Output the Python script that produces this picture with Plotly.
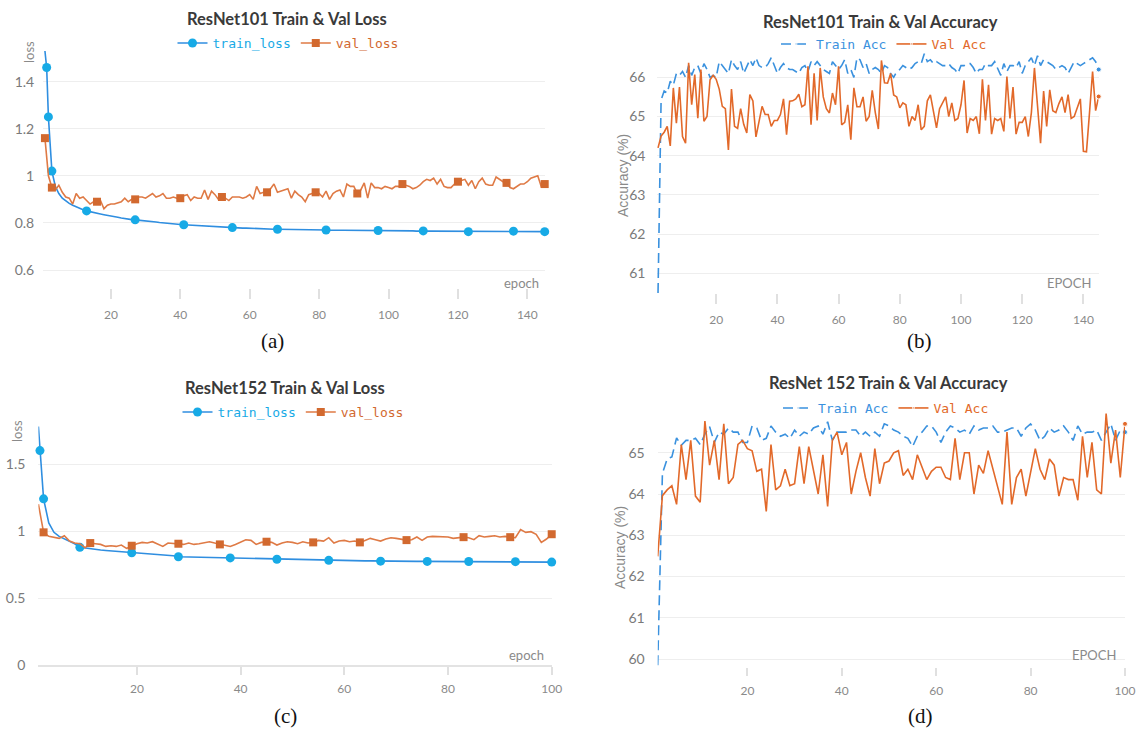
import plotly.graph_objects as go

W, H = 1136, 729

# ---------------- data ----------------
# (a) ResNet101 loss
ep_a_train = [1, 1.5, 2] + list(range(3, 146))
train_loss_a = [1.53, 1.46, 1.25, 1.02,
    0.955, 0.925, 0.905, 0.893, 0.883, 0.875, 0.868, 0.862, 0.856, 0.851,
    0.847, 0.843, 0.840, 0.838, 0.835, 0.833, 0.830, 0.827, 0.824, 0.821,
    0.818, 0.816, 0.814, 0.813, 0.812, 0.810, 0.808, 0.806, 0.805, 0.804,
    0.802, 0.800, 0.799, 0.797, 0.796, 0.795, 0.793, 0.792, 0.791, 0.790,
    0.789, 0.788, 0.787, 0.786, 0.786, 0.785, 0.784, 0.783, 0.782, 0.782,
    0.781, 0.780, 0.779, 0.779, 0.778, 0.778, 0.777, 0.776, 0.776, 0.775,
    0.775, 0.774, 0.774, 0.773, 0.773, 0.773, 0.772, 0.772, 0.772, 0.771,
    0.771, 0.771, 0.771, 0.770, 0.771, 0.770, 0.770, 0.770, 0.770, 0.769,
    0.770, 0.769, 0.769, 0.769, 0.769, 0.768, 0.769, 0.768, 0.768, 0.768,
    0.768, 0.768, 0.767, 0.768, 0.767, 0.767, 0.767, 0.767, 0.766, 0.767,
    0.766, 0.766, 0.766, 0.766, 0.765, 0.766, 0.766, 0.765, 0.765, 0.765,
    0.765, 0.765, 0.764, 0.765, 0.764, 0.764, 0.764, 0.764, 0.764, 0.763,
    0.764, 0.764, 0.764, 0.765, 0.764, 0.764, 0.765, 0.764, 0.764, 0.765,
    0.765, 0.764, 0.765, 0.764, 0.764, 0.764, 0.763, 0.764, 0.764, 0.763,
    0.764, 0.763]
train_loss_a_marks = [1.5, 2, 3, 13, 27, 41, 55, 68, 82, 97, 110, 123, 136, 145]

val_loss_a = [
    1.16, 1.00, 0.95, 0.94, 0.96, 0.93, 0.91, 0.905, 0.88, 0.925,
    0.905, 0.91, 0.895, 0.88, 0.89, 0.89, 0.895, 0.86, 0.875, 0.88,
    0.88, 0.885, 0.89, 0.905, 0.89, 0.90, 0.90, 0.91, 0.91, 0.905,
    0.915, 0.925, 0.91, 0.915, 0.925, 0.905, 0.905, 0.91, 0.905, 0.905,
    0.915, 0.92, 0.895, 0.91, 0.905, 0.905, 0.94, 0.90, 0.935, 0.92,
    0.90, 0.91, 0.905, 0.895, 0.91, 0.91, 0.91, 0.905, 0.91, 0.92,
    0.90, 0.955, 0.925, 0.93, 0.93, 0.945, 0.965, 0.93, 0.935, 0.94,
    0.945, 0.905, 0.935, 0.92, 0.91, 0.89, 0.92, 0.925, 0.93, 0.925,
    0.91, 0.935, 0.90, 0.925, 0.935, 0.94, 0.91, 0.965, 0.955, 0.955,
    0.925, 0.94, 0.97, 0.905, 0.97, 0.95, 0.95, 0.945, 0.955, 0.95,
    0.945, 0.955, 0.955, 0.965, 0.96, 0.955, 0.945, 0.95, 0.96, 0.975,
    0.985, 0.98, 0.99, 0.965, 0.985, 0.955, 0.95, 0.95, 0.965, 0.975,
    0.98, 0.985, 0.96, 0.98, 0.945, 0.975, 0.99, 0.965, 0.96, 0.96,
    0.995, 0.985, 0.975, 0.97, 0.95, 0.945, 0.955, 0.965, 0.965, 0.975,
    0.99, 0.995, 1.0, 0.955, 0.965]
ep_a_val = list(range(1, 146))
val_loss_a_marks = [1, 3, 16, 27, 40, 52, 65, 79, 91, 104, 120, 134, 145]

# (b) ResNet101 accuracy
ep_b = list(range(1, 146))
train_acc_b = [
    60.5, 65.42, 65.65, 65.6, 65.9, 65.8, 66.1, 66.05, 66.15, 66.0,
    66.3, 66.05, 66.25, 66.3, 66.1, 66.35, 66.2, 66.0, 66.05, 66.0,
    66.4, 66.3, 66.2, 66.1, 66.45, 66.3, 66.2, 66.4, 66.1, 66.3,
    66.45, 66.3, 66.5, 66.3, 66.25, 66.25, 66.35, 66.5, 66.3, 66.1,
    66.25, 66.35, 66.25, 66.2, 66.2, 66.15, 66.1, 66.25, 66.3, 66.15,
    66.4, 66.3, 66.4, 66.3, 66.2, 66.15, 66.1, 66.4, 66.3,
    66.2, 66.3, 66.45, 66.1, 66.2, 66.0, 66.5, 66.45, 66.25, 66.35,
    66.1, 66.2, 66.25, 66.2, 66.1, 66.3, 66.25, 66.1, 66.0, 66.15,
    66.2, 66.3, 66.25, 66.2, 66.25, 66.35, 66.4, 66.35, 66.6, 66.4,
    66.45, 66.35, 66.4, 66.35, 66.3, 66.3, 66.35, 66.25, 66.2, 66.1,
    66.3, 66.3, 66.35, 66.35, 66.25, 66.1, 66.2, 66.2, 66.35, 66.3,
    66.3, 66.4, 66.2, 66.05, 66.35, 66.15, 66.3, 66.3, 66.25, 66.4,
    66.1, 66.3, 66.4, 66.5, 66.3, 66.55, 66.3, 66.45, 66.4, 66.35,
    66.3, 66.2, 66.25, 66.3, 66.25, 66.1, 66.25, 66.4, 66.35, 66.3,
    66.35, 66.4, 66.45, 66.5, 66.4, 66.2]
val_acc_b = [
    64.2, 64.5, 64.6, 64.75, 64.25, 65.73, 64.83, 65.75, 64.49, 64.32,
    66.37, 65.3, 66.07, 64.96, 66.2, 64.88, 65.0, 65.94, 66.05, 65.95,
    65.7, 65.26, 65.2, 64.15, 65.7, 64.75, 64.7, 65.2, 64.8, 64.58,
    65.56, 65.4, 64.48, 64.9, 65.26, 65.05, 65.05, 64.75, 64.9, 64.9,
    65.05, 65.45, 64.54, 65.39, 65.4, 65.45, 65.57, 65.25, 65.3, 66.28,
    64.79, 66.1, 64.9, 66.24, 65.5, 65.2, 65.09, 65.6, 65.3, 66.28,
    64.79, 64.85, 65.3, 64.41, 65.73, 65.25, 65.25, 65.5, 64.88, 65.0,
    65.67, 65.1, 64.68, 66.43, 65.86, 65.85, 66.1, 65.55, 65.5, 65.22,
    65.35, 65.3, 64.75, 65.0, 64.9, 65.3, 64.66, 64.75, 65.4, 65.55,
    65.1, 64.71, 65.2, 65.35, 65.5, 65.0, 65.35, 64.9, 64.95, 65.3,
    65.92, 64.58, 64.95, 64.9, 65.0, 64.56, 65.95, 64.9, 65.81, 64.55,
    64.95, 64.9, 64.95, 64.62, 66.02, 64.95, 65.75, 64.55, 64.85, 64.85,
    65.0, 64.49, 65.1, 66.24, 65.3, 64.32, 65.65, 64.75, 65.68, 65.15,
    65.1, 65.33, 65.5, 65.1, 65.56, 64.95, 65.0, 65.25, 65.45, 64.11,
    64.1, 65.1, 66.15, 65.15, 65.51]

# (c) ResNet152 loss
ep_c_train = [1, 1.3, 2] + list(range(3, 101))
train_loss_c = [1.78, 1.60, 1.24,
    1.06, 0.99, 0.96, 0.94, 0.925, 0.905, 0.878, 0.872, 0.866, 0.862,
    0.858, 0.855, 0.852, 0.85, 0.847, 0.845, 0.838, 0.836, 0.834, 0.832,
    0.83, 0.828, 0.825, 0.82, 0.815, 0.808, 0.807, 0.806, 0.806, 0.805,
    0.804, 0.803, 0.802, 0.801, 0.80, 0.799, 0.798, 0.797, 0.796, 0.795,
    0.794, 0.793, 0.792, 0.791, 0.789, 0.788, 0.787, 0.786, 0.785, 0.784,
    0.783, 0.782, 0.782, 0.781, 0.781, 0.78, 0.78, 0.779, 0.779, 0.778,
    0.778, 0.777, 0.777, 0.776, 0.775, 0.775, 0.775, 0.774, 0.774, 0.774,
    0.774, 0.773, 0.773, 0.773, 0.773, 0.773, 0.772, 0.772, 0.772, 0.772,
    0.772, 0.772, 0.772, 0.771, 0.771, 0.771, 0.771, 0.771, 0.771, 0.771,
    0.771, 0.77, 0.77, 0.77, 0.77, 0.769, 0.769, 0.768]
train_loss_c_marks = [1.3, 2, 9, 19, 28, 38, 47, 57, 67, 76, 84, 93, 100]

ep_c_val = list(range(1, 101))
val_loss_c = [
    1.20, 0.99, 0.96, 0.95, 0.945, 0.965, 0.925, 0.91, 0.905, 0.875,
    0.91, 0.905, 0.9, 0.885, 0.89, 0.885, 0.895, 0.87, 0.89, 0.905,
    0.915, 0.91, 0.92, 0.905, 0.885, 0.91, 0.905, 0.905, 0.9, 0.91,
    0.9, 0.905, 0.91, 0.92, 0.91, 0.9, 0.895, 0.885, 0.9, 0.915,
    0.935, 0.93, 0.9, 0.915, 0.92, 0.915, 0.895, 0.91, 0.92, 0.915,
    0.905, 0.92, 0.91, 0.915, 0.93, 0.925, 0.95, 0.91, 0.925, 0.93,
    0.92, 0.925, 0.915, 0.93, 0.945, 0.935, 0.925, 0.94, 0.95, 0.945,
    0.94, 0.932, 0.935, 0.955, 0.93, 0.955, 0.96, 0.96, 0.96, 0.955,
    0.945, 0.95, 0.954, 0.95, 0.935, 0.965, 0.955, 0.96, 0.965, 0.955,
    0.96, 0.954, 0.95, 1.01, 0.99, 0.995, 0.975, 0.915, 0.94, 0.976]
val_loss_c_marks = [2, 11, 19, 28, 36, 45, 54, 63, 72, 83, 92, 100]

# (d) ResNet152 accuracy
ep_d = list(range(1, 101))
train_acc_d = [
    59.85, 64.5, 64.85, 64.9, 65.36, 65.18, 65.3, 65.3, 65.35, 65.2,
    65.45, 65.63, 65.25, 65.5, 65.45, 65.6, 65.5, 65.5, 65.25, 65.25,
    65.65, 65.6, 65.3, 65.35, 65.65, 65.5, 65.4, 65.45, 65.35, 65.55,
    65.4, 65.5, 65.45, 65.6, 65.65, 65.45, 65.75, 65.3, 65.5, 65.5,
    65.5, 65.55, 65.55, 65.4, 65.5, 65.4, 65.5, 65.4, 65.7, 65.65,
    65.55, 65.5, 65.4, 65.35, 65.15, 65.4, 65.5, 65.65, 65.65, 65.5,
    65.25, 65.5, 65.65, 65.6, 65.5, 65.55, 65.45, 65.65, 65.55, 65.6,
    65.6, 65.65, 65.5, 65.5, 65.55, 65.6, 65.6, 65.4, 65.6, 65.7,
    65.55, 65.3, 65.4, 65.6, 65.5, 65.55, 65.65, 65.5, 65.3, 65.65,
    65.45, 65.5, 65.5, 65.55, 65.3, 65.5, 65.7, 65.3, 65.55, 65.5]
val_acc_d = [
    62.49, 63.96, 64.1, 64.2, 63.75, 65.2, 64.35, 65.3, 63.95, 63.8,
    65.77, 64.7, 65.3, 64.35, 65.7, 64.25, 64.4, 65.2, 65.3, 65.1,
    65.05, 64.55, 64.6, 63.58, 65.2, 64.1, 64.2, 64.6, 64.2, 64.25,
    65.15, 64.25, 65.15, 64.55, 64.0, 64.95, 63.7, 65.3, 65.5, 64.95,
    65.25, 64.0, 64.55, 65.0, 64.4, 63.95, 65.1, 64.25, 64.75, 64.8,
    65.0, 65.05, 64.45, 64.6, 64.35, 64.95, 64.65, 64.35, 64.55, 64.65,
    64.65, 64.4, 64.35, 65.35, 64.35, 65.0, 65.0, 64.0, 64.7, 64.5,
    65.05, 64.6, 64.2, 63.75, 65.5, 63.75, 64.4, 64.6, 63.95, 64.5,
    65.1, 64.6, 64.35, 64.85, 64.7, 63.95, 64.4, 64.35, 64.35, 63.85,
    65.4, 64.4, 65.25, 64.1, 64.0, 65.95, 64.75, 65.55, 64.4, 65.7]

titles = ["ResNet101 Train & Val Loss", "ResNet101 Train & Val Accuracy",
          "ResNet152 Train & Val Loss", "ResNet 152 Train & Val Accuracy"]
captions = ["(a)", "(b)", "(c)", "(d)"]

# ---------------- styling ----------------
BLUE_M = "#17aae6"
BLUE_L = "#2f8ee0"
ORANGE_M = "#d2692f"
ORANGE_L = "#df7a45"
ACC_BLUE = "#3a91de"
ACC_ORANGE = "#e2692a"
GRID = "#eeeeee"
TICKC = "#7a7a7a"
SANS = "Lato, sans-serif"
MONO = "DejaVu Sans Mono, monospace"


def xd(l, r):
    return [l / W, r / W]


def yd(t, b):
    return [1 - b / H, 1 - t / H]


def picks(xs, marks):
    return [i for i, x in enumerate(xs) if x in marks]


def last_only(xs, s):
    return [0] * (len(xs) - 1) + [s]


fig = go.Figure()


def loss_trace(xs, ys, marks, name, lcol, mcol, symbol, size, xa, ya, leg):
    return go.Scatter(x=xs, y=ys, mode="lines+markers", xaxis=xa, yaxis=ya,
                      name='<span style="color:%s">%s</span>' % (mcol, name), legend=leg,
                      line=dict(color=lcol, width=1.6),
                      marker=dict(color=mcol, size=size, symbol=symbol, opacity=1),
                      selectedpoints=picks(xs, marks),
                      selected=dict(marker=dict(opacity=1)),
                      unselected=dict(marker=dict(opacity=0)),
                      cliponaxis=False)


def acc_trace(xs, ys, name, col, dash, xa, ya, leg):
    return go.Scatter(x=xs, y=ys, mode="lines+markers", xaxis=xa, yaxis=ya,
                      name='<span style="color:%s">%s</span>' % (col, name), legend=leg,
                      line=dict(color=col, width=1.6, dash=dash),
                      marker=dict(color=col, size=last_only(xs, 5), opacity=1), cliponaxis=False)


fig.add_trace(loss_trace(ep_a_train, train_loss_a, train_loss_a_marks, "train_loss", BLUE_L, BLUE_M,
                         "circle", 9, "x", "y", "legend"))
fig.add_trace(loss_trace(ep_a_val, val_loss_a, val_loss_a_marks, "val_loss", ORANGE_L, ORANGE_M,
                         "square", 8, "x", "y", "legend"))
fig.add_trace(acc_trace(ep_b, train_acc_b, "Train Acc", ACC_BLUE, "10px,5px", "x2", "y2", "legend2"))
fig.add_trace(acc_trace(ep_b, val_acc_b, "Val Acc", ACC_ORANGE, "solid", "x2", "y2", "legend2"))
fig.add_trace(loss_trace(ep_c_train, train_loss_c, train_loss_c_marks, "train_loss", BLUE_L, BLUE_M,
                         "circle", 9, "x3", "y3", "legend3"))
fig.add_trace(loss_trace(ep_c_val, val_loss_c, val_loss_c_marks, "val_loss", ORANGE_L, ORANGE_M,
                         "square", 8, "x3", "y3", "legend3"))
fig.add_trace(acc_trace(ep_d, train_acc_d, "Train Acc", ACC_BLUE, "10px,5px", "x4", "y4", "legend4"))
fig.add_trace(acc_trace(ep_d, val_acc_d, "Val Acc", ACC_ORANGE, "solid", "x4", "y4", "legend4"))


def xaxis(domain, rng, ticklen, showline, standoff):
    return dict(domain=domain, range=rng, showgrid=False, zeroline=False, showline=showline,
                linecolor="#e3e3e3", linewidth=1.5, tickvals=[20, 40, 60, 80, 100, 120, 140],
                ticks="outside", ticklen=ticklen, tickcolor="#e0e0e0", tickwidth=1.5,
                tickfont=dict(family=SANS, size=12, color="#8a8a8a"), ticklabelstandoff=standoff,
                automargin=False, fixedrange=True)


def yaxis(domain, rng, vals, texts, anchor, standoff):
    return dict(domain=domain, range=rng, tickvals=vals, ticktext=texts, showgrid=True,
                gridcolor=GRID, gridwidth=1, zeroline=False, showline=False, ticks="",
                tickfont=dict(family=SANS, size=14, color=TICKC), anchor=anchor,
                ticklabelstandoff=standoff, automargin=False, fixedrange=True)


fig.update_layout(
    width=W, height=H, margin=dict(l=0, r=0, t=0, b=0, autoexpand=False),
    paper_bgcolor="white", plot_bgcolor="white",
    xaxis=dict(xaxis(xd(43.2, 544.7), [0.5, 145], 10, False, 6), anchor="y"),
    yaxis=yaxis(yd(46.3, 288), [0.5236, 1.55], [0.6, 0.8, 1.0, 1.2, 1.4],
                ["0.6", "0.8", "1", "1.2", "1.4"], "x", 8),
    xaxis2=dict(xaxis(xd(656.5, 1098.7), [0.5, 145], 10, False, 6), anchor="y2"),
    yaxis2=yaxis(yd(49.9, 292.9), [60.5, 66.7], [61, 62, 63, 64, 65, 66],
                 ["61", "62", "63", "64", "65", "66"], "x2", 10),
    xaxis3=dict(xaxis(xd(38.4, 551.7), [1, 100], 8, True, 4), anchor="y3"),
    yaxis3=yaxis(yd(423.8, 665), [0, 1.8], [0, 0.5, 1, 1.5], ["0", "0.5", "1", "1.5"], "x3", 12),
    xaxis4=dict(xaxis(xd(657.7, 1125), [1, 100], 8, False, 4), anchor="y4"),
    yaxis4=yaxis(yd(411.5, 667.3), [59.8, 66.0], [60, 61, 62, 63, 64, 65],
                 ["60", "61", "62", "63", "64", "65"], "x4", 12),
    showlegend=True,
)

leg_common = dict(orientation="h", xanchor="center", yanchor="middle", itemwidth=30,
                  font=dict(family=MONO, size=13), bgcolor="rgba(0,0,0,0)", tracegroupgap=0)
fig.update_layout(
    legend=dict(leg_common, x=288 / W, y=1 - 43 / H),
    legend2=dict(leg_common, x=884 / W, y=1 - 44 / H),
    legend3=dict(leg_common, x=293 / W, y=1 - 412 / H),
    legend4=dict(leg_common, x=886 / W, y=1 - 408 / H),
)

ann = []
# titles
for (cx, cy), t in zip([(287, 19), (880, 22), (285, 388), (888, 383)], titles):
    ann.append(dict(x=cx / W, y=1 - cy / H, xref="paper", yref="paper", text="<b>%s</b>" % t,
                    showarrow=False, xanchor="center", yanchor="middle",
                    font=dict(family=SANS, size=16.5, color="#3a3a3a")))
# captions
for (cx, cy), t in zip([(272, 341), (919, 341), (285, 716), (920, 716)], captions):
    ann.append(dict(x=cx / W, y=1 - cy / H, xref="paper", yref="paper", text=t,
                    showarrow=False, xanchor="center", yanchor="middle",
                    font=dict(family="Liberation Serif, serif", size=21, color="#111111")))
# axis name labels
for (rx, cy), t in zip([(541, 283), (1093, 283), (546, 655), (1118, 655)], ["epoch", "EPOCH", "epoch", "EPOCH"]):
    ann.append(dict(x=rx / W, y=1 - cy / H, xref="paper", yref="paper", text=t,
                    showarrow=False, xanchor="right", yanchor="middle",
                    font=dict(family=SANS, size=13, color="#8a8a8a")))
for (cx, cy) in [(29, 52), (17, 431)]:
    ann.append(dict(x=cx / W, y=1 - cy / H, xref="paper", yref="paper", text="loss", textangle=-90,
                    showarrow=False, xanchor="center", yanchor="middle",
                    font=dict(family=SANS, size=13, color="#8a8a8a")))
for (cx, cy) in [(623, 176), (620, 548)]:
    ann.append(dict(x=cx / W, y=1 - cy / H, xref="paper", yref="paper", text="Accuracy (%)", textangle=-90,
                    showarrow=False, xanchor="center", yanchor="middle",
                    font=dict(family="Liberation Sans, Arial, sans-serif", size=14, color="#8a8a8a")))
fig.update_layout(annotations=ann)

fig.write_html("out.html")
